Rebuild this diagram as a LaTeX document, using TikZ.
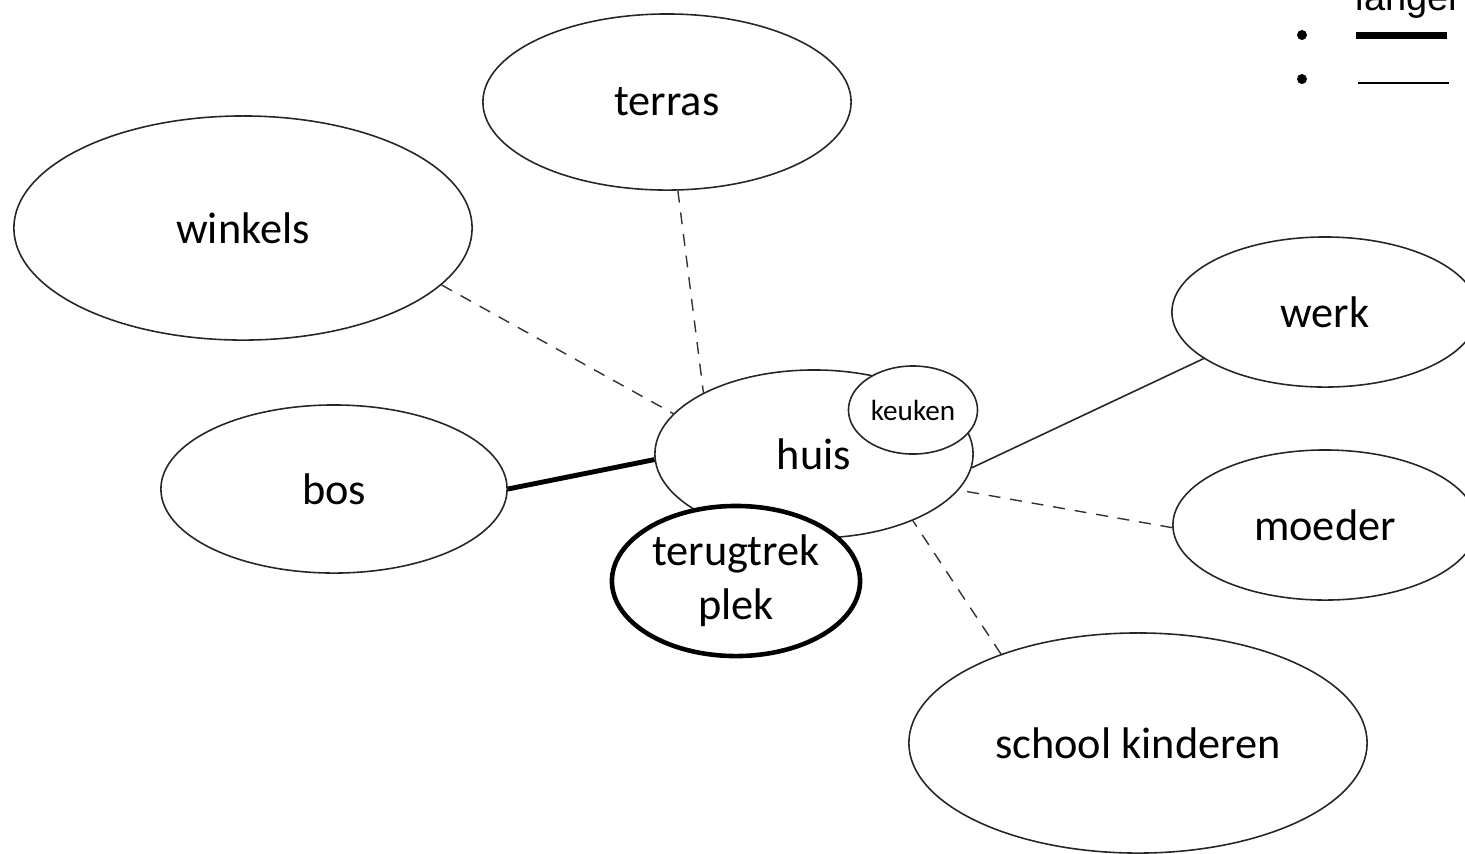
\documentclass[tikz,border=0pt]{standalone}
\usepackage{fontspec}
\setmainfont{Carlito}
\newfontfamily\legendfont{Liberation Sans}
\usetikzlibrary{shapes.geometric}
\begin{document}
\begin{tikzpicture}[x=0.01cm,y=-0.01cm,
  bubble/.style={ellipse,draw=black!85,line width=0.45pt,inner sep=0pt,align=center,
    font=\fontsize{12.6}{15.4}\selectfont,text=black},
  dashlink/.style={draw=black!80,line width=0.4pt,dash pattern=on 3.4pt off 2.8pt},
  solidlink/.style={draw=black!85,line width=0.45pt},
  thicklink/.style={draw=black,line width=1.4pt}]
\useasboundingbox (0,0) rectangle (1465,853);
\begin{scope}
\clip (0,0) rectangle (1465,853);
% ellipses
\node[bubble,minimum width=3.68cm,minimum height=1.76cm] (terras) at (667,102) {terras};
\node[bubble,minimum width=4.58cm,minimum height=2.24cm] (winkels) at (243,228) {winkels};
\node[bubble,minimum width=3.46cm,minimum height=1.68cm] (bos) at (334,489) {bos};
\node[bubble,minimum width=3.18cm,minimum height=1.68cm] (huis) at (814,454) {huis};
\node[bubble,minimum width=3.06cm,minimum height=1.50cm] (werk) at (1325,312) {werk};
\node[bubble,minimum width=3.04cm,minimum height=1.50cm] (moeder) at (1325,525) {moeder};
\node[bubble,minimum width=4.58cm,minimum height=2.20cm] (school) at (1138,743) {school kinderen};
\node[bubble,fill=white,minimum width=1.29cm,minimum height=0.88cm,font=\fontsize{8.3}{10}\selectfont] (keuken) at (913,410) {keuken};
\node[bubble,fill=white,draw=black,line width=1.3pt,minimum width=2.48cm,minimum height=1.50cm] (terug) at (736,581) {terugtrek\\plek};
% connectors
\draw[dashlink] (winkels.-16) -- (huis.164);
\draw[dashlink] (terras.-83) -- (huis.151);
\draw[thicklink] (bos.0) -- (huis.182);
\draw[solidlink] (werk.201) -- (huis.-5);
\draw[dashlink] (moeder.181) -- (huis.-14);
\draw[dashlink] (school.147) -- (huis.-34);
% legend
\node[anchor=base west,inner sep=0pt,font=\legendfont\fontsize{10.8}{13}\selectfont] (langer) at (1355,10) {langer};
\fill (1302,35) circle[radius=0.05cm];
\fill (1302,79) circle[radius=0.05cm];
\coordinate (l1a) at (1356,35);
\coordinate (l1b) at (1447,35);
\coordinate (l2a) at (1358,83);
\coordinate (l2b) at (1449,83);
\draw[line width=2pt] (l1a) -- (l1b);
\draw[line width=0.6pt] (l2a) -- (l2b);
\end{scope}
\end{tikzpicture}
\end{document}
